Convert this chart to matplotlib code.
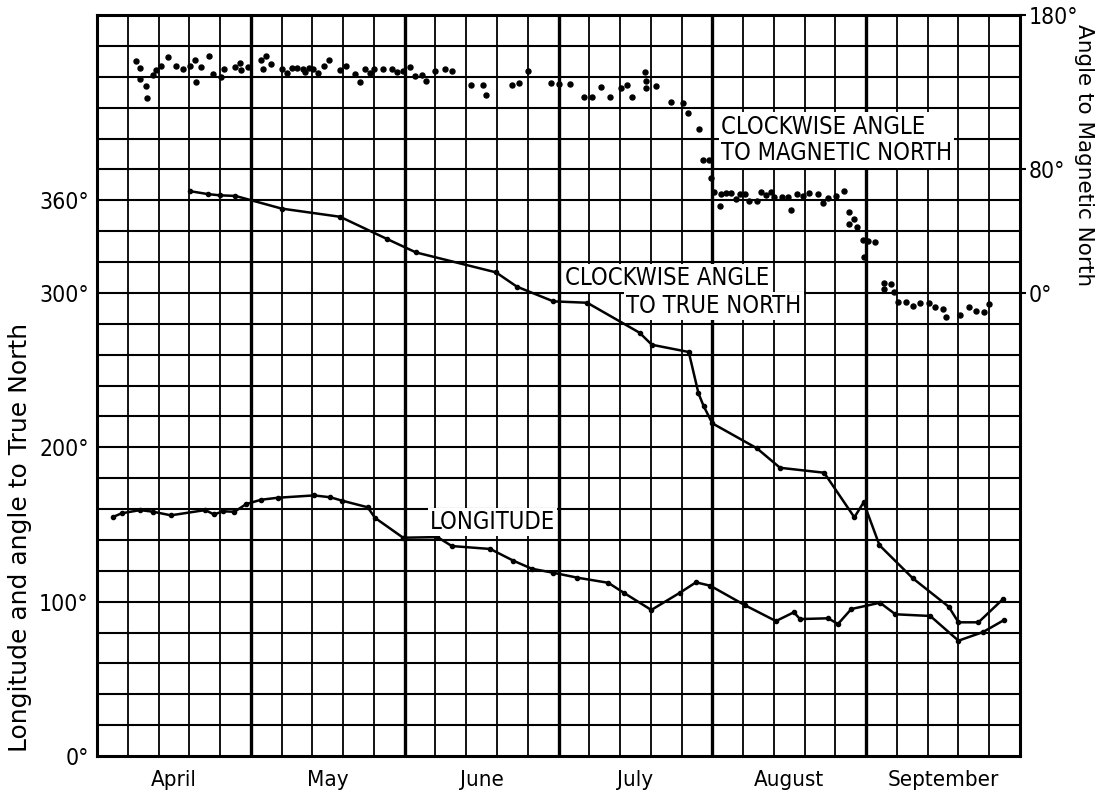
import matplotlib
matplotlib.use("Agg")
import matplotlib.pyplot as plt
import numpy as np

plt.rcParams['font.family'] = ['DejaVu Sans']
plt.rcParams['font.stretch'] = 'condensed'

# x = days since 1 April, each month drawn as 30 days (5 grid cells)
months = ["April", "May", "June", "July", "August", "September"]

# clockwise angle to magnetic north (right axis, degrees)
mag_day = [7.7, 8.3, 8.4, 9.6, 9.8, 10.9, 11.5, 12.5, 13.9, 15.4, 16.8, 18.1, 19.2, 19.3,
           20.3, 21.8, 22.7, 24.1, 24.8, 26.9, 27.8, 28.1, 29.5, 32.0, 33.0, 32.3, 34.0,
           36.0, 37.0, 38.0, 39.1, 40.1, 40.6, 41.3, 42.1, 43.1, 44.3, 45.3, 47.4, 48.6,
           50.3, 51.2, 52.3, 53.3, 54.0, 55.7, 57.5, 58.6, 59.6, 61.1, 62.0, 63.4, 64.2,
           66.0, 67.9, 69.2, 73.0, 75.2, 75.8, 80.9, 82.3, 84.0, 88.6, 90.1, 92.3, 95.0,
           96.5, 98.2, 100.0, 102.1, 103.4, 104.3, 106.9, 107.0, 107.1, 109.1, 112.0,
           114.2, 115.2, 117.4, 118.2, 119.3, 119.7, 120.4, 121.4, 121.7, 122.7, 123.7,
           124.6, 125.4, 126.4, 127.2, 128.8, 129.5, 130.5, 131.4, 132.1, 133.6, 134.8,
           135.4, 136.6, 137.6, 138.8, 140.6, 141.5, 142.6, 144.1, 145.7, 146.7, 147.7,
           146.7, 148.3, 149.4, 150.3, 151.7, 149.6, 153.4, 154.9, 153.4, 155.5, 156.2,
           157.7, 159.1, 160.5, 162.3, 163.5, 164.9, 165.5, 168.3, 170.1, 171.4, 173.0,
           173.9]
mag_angle = [150.1, 145.6, 138.3, 133.9, 126.2, 141.3, 144.3, 146.9, 152.9, 146.9, 144.9,
             146.9, 150.8, 136.7, 146.1, 153.4, 141.5, 140.0, 145.1, 146.4, 148.6, 144.5,
             146.4, 150.6, 153.4, 145.1, 148.2, 144.7, 142.2, 145.8, 145.8, 145.1, 143.0,
             145.6, 145.1, 142.2, 146.9, 150.8, 144.3, 146.9, 141.5, 136.3, 145.1, 142.4,
             145.1, 144.9, 144.9, 142.8, 143.8, 146.1, 140.4, 140.9, 137.0, 143.8, 144.7,
             143.7, 134.6, 134.4, 128.3, 134.4, 135.7, 143.5, 135.9, 135.4, 135.0, 127.0,
             126.8, 133.3, 127.0, 132.6, 134.6, 127.0, 142.8, 137.4, 132.6, 133.7, 123.8,
             122.9, 116.5, 106.3, 86.0, 85.8, 74.2, 65.1, 56.4, 63.8, 64.8, 64.4, 60.9,
             64.2, 63.8, 59.7, 59.7, 65.3, 63.5, 65.1, 62.2, 62.2, 62.2, 53.8, 64.0, 62.9,
             64.6, 64.2, 58.2, 61.6, 62.7, 65.9, 52.1, 47.8, 44.6, 42.4, 34.2, 33.4, 32.9,
             23.4, 6.5, 5.7, 2.7, 0.7, -5.8, -6.2, -8.5, -6.4, -6.6, -9.0, -10.7, -15.5,
             -14.2, -9.0, -11.8, -12.2, -7.4]

# clockwise angle to true north (left axis, degrees)
true_day = [18.1, 21.6, 23.9, 27.0, 36.0, 47.4, 56.5, 62.2, 77.8, 81.9, 89.0, 95.6, 105.8,
            108.2, 115.4, 117.3, 118.3, 120.0, 128.7, 133.2, 141.8, 147.7, 149.5, 152.6,
            159.1, 166.1, 168.0, 171.9, 176.7]
true_angle = [365.9, 364.0, 363.2, 362.8, 354.6, 349.3, 335.0, 326.2, 313.3, 304.0, 294.5,
              293.6, 274.2, 266.4, 261.7, 234.9, 226.7, 215.5, 199.3, 186.7, 183.5, 154.6,
              164.3, 136.5, 115.1, 96.7, 86.6, 86.6, 101.7]

# longitude (left axis, degrees)
lon_day = [3.1, 4.8, 8.4, 11.0, 14.4, 21.1, 22.8, 24.6, 26.8, 29.1, 32.0, 35.3, 42.3, 45.5,
           47.8, 52.8, 54.2, 59.7, 66.4, 69.2, 76.7, 81.2, 84.8, 89.0, 93.7, 99.7, 102.7,
           108.1, 113.7, 116.8, 119.6, 126.4, 132.4, 135.9, 137.1, 142.6, 144.5, 147.1,
           152.7, 155.7, 162.5, 168.0, 172.8, 176.9]
lon_value = [154.8, 157.2, 159.3, 158.2, 155.9, 159.3, 156.5, 158.5, 158.2, 163.2, 166.0,
             167.3, 168.8, 167.6, 165.4, 161.1, 154.3, 141.4, 141.8, 136.0, 134.1, 126.5,
             121.3, 118.7, 115.5, 112.2, 105.8, 94.6, 105.8, 112.5, 110.3, 97.6, 87.4, 93.1,
             88.7, 89.2, 85.5, 95.2, 99.3, 91.8, 90.7, 74.7, 80.3, 88.1]

fig = plt.figure(figsize=(10.99, 7.93), dpi=100)
ax = fig.add_axes([97 / 1099, 37 / 793, 923 / 1099, 741 / 793])
ax.set_xlim(0, 180)
ax.set_ylim(0, 480)

# graph paper
for d in np.arange(6, 180, 6):
    ax.axvline(d, color="black", lw=2.4 if d % 30 == 0 else 1.3, zorder=1)
for v in np.arange(20, 480, 20):
    ax.axhline(v, color="black", lw=1.5, zorder=1)

ax.plot(true_day, true_angle, color="black", lw=1.8, marker="o", ms=3, zorder=3)
ax.plot(lon_day, lon_value, color="black", lw=1.8, marker="o", ms=3, zorder=3)

ax.set_xticks([15 + 30 * i for i in range(6)])
ax.set_xticklabels(months, fontsize=16)
ax.set_yticks([0, 100, 200, 300, 360])
ax.set_yticklabels(["0°", "100°", "200°", "300°", "360°"], fontsize=16.5)
ax.tick_params(axis="y", length=0, pad=6)
ax.tick_params(axis="x", length=0, pad=10)
for s in ax.spines.values():
    s.set_linewidth(2.2)

ax2 = ax.twinx()
ax2.set_ylim(-300, 180)
ax2.plot(mag_day, mag_angle, "o", color="black", ms=3.6, zorder=3)
ax2.set_yticks([0, 80, 180])
ax2.set_yticklabels(["0°", "80°", "180°"], fontsize=16.5)
ax2.tick_params(length=4, width=1.5, pad=2)

box = dict(facecolor="white", edgecolor="none", pad=1.5)
ax.text(121.7, 399, "CLOCKWISE ANGLE\nTO MAGNETIC NORTH", fontsize=17, ha="left",
        va="center", linespacing=1.15, bbox=box, zorder=4)
ax.text(91.3, 309.6, "CLOCKWISE ANGLE", fontsize=17, ha="left", va="center",
        bbox=box, zorder=4)
ax.text(103.2, 291.5, "TO TRUE NORTH", fontsize=17, ha="left", va="center",
        bbox=box, zorder=4)
ax.text(64.9, 151.6, "LONGITUDE", fontsize=17, ha="left", va="center",
        bbox=box, zorder=4)

fig.text(20 / 1099, 1 - 537 / 793, "Longitude and angle to True North", rotation=90,
         ha="center", va="center", fontsize=18, stretch="normal")
fig.text(1084 / 1099, 1 - 155 / 793, "Angle to Magnetic North", rotation=270,
         ha="center", va="center", fontsize=15.5, stretch="normal")

fig.savefig("out.png", dpi=100)
